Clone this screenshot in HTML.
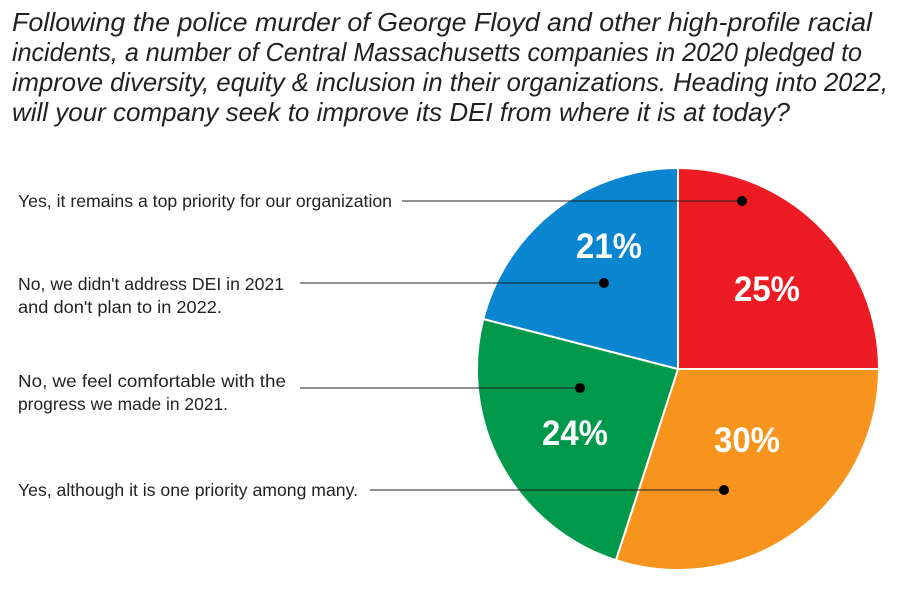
<!DOCTYPE html>
<html><head><meta charset="utf-8"><style>
html,body{margin:0;padding:0;background:#fff;}
svg{display:block;}
</style></head><body>
<svg width="900" height="601" viewBox="0 0 900 601" xmlns="http://www.w3.org/2000/svg">
<g font-family="Liberation Sans, sans-serif" font-style="italic" font-size="26" fill="#231f20">
<text x="12" y="31" textLength="860" lengthAdjust="spacingAndGlyphs">Following the police murder of George Floyd and other high-profile racial</text>
<text x="12" y="61" textLength="850" lengthAdjust="spacingAndGlyphs">incidents, a number of Central Massachusetts companies in 2020 pledged to</text>
<text x="12" y="91" textLength="876" lengthAdjust="spacingAndGlyphs">improve diversity, equity &amp; inclusion in their organizations. Heading into 2022,</text>
<text x="12" y="121" textLength="778" lengthAdjust="spacingAndGlyphs">will your company seek to improve its DEI from where it is at today?</text>
</g>
<g transform="translate(678,369)" stroke="#fff" stroke-width="2">
<path d="M0,0 L0,-201 A201,201 0 0 1 201,0 Z" fill="#ed1c24"/>
<path d="M0,0 L201,0 A201,201 0 0 1 -62.1,191.2 Z" fill="#f7941d"/>
<path d="M0,0 L-62.1,191.2 A201,201 0 0 1 -194.7,-50 Z" fill="#00984a"/>
<path d="M0,0 L-194.7,-50 A201,201 0 0 1 0,-201 Z" fill="#0a85cf"/>
</g>
<g font-family="Liberation Sans, sans-serif" font-weight="bold" font-size="35" fill="#fff" text-anchor="middle">
<text x="609" y="258" textLength="66" lengthAdjust="spacingAndGlyphs">21%</text>
<text x="767" y="301" textLength="66" lengthAdjust="spacingAndGlyphs">25%</text>
<text x="747" y="452" textLength="66" lengthAdjust="spacingAndGlyphs">30%</text>
<text x="575" y="445" textLength="66" lengthAdjust="spacingAndGlyphs">24%</text>
</g>
<g stroke="#231f20" stroke-width="1">
<line x1="402" y1="201" x2="742" y2="201"/>
<line x1="300" y1="283" x2="604" y2="283"/>
<line x1="300" y1="388" x2="580" y2="388"/>
<line x1="370" y1="490" x2="724" y2="490"/>
</g>
<g fill="#000">
<circle cx="742" cy="201" r="5"/>
<circle cx="604" cy="283" r="5"/>
<circle cx="580" cy="388" r="5"/>
<circle cx="724" cy="490" r="5"/>
</g>
<g font-family="Liberation Sans, sans-serif" font-size="17.5" fill="#231f20">
<text x="18" y="207" textLength="374" lengthAdjust="spacingAndGlyphs">Yes, it remains a top priority for our organization</text>
<text x="18" y="290" textLength="266" lengthAdjust="spacingAndGlyphs">No, we didn't address DEI in 2021</text>
<text x="18" y="313" textLength="204" lengthAdjust="spacingAndGlyphs">and don't plan to in 2022.</text>
<text x="18" y="387" textLength="268" lengthAdjust="spacingAndGlyphs">No, we feel comfortable with the</text>
<text x="18" y="410" textLength="210" lengthAdjust="spacingAndGlyphs">progress we made in 2021.</text>
<text x="18" y="496" textLength="340" lengthAdjust="spacingAndGlyphs">Yes, although it is one priority among many.</text>
</g>
</svg>
</body></html>
